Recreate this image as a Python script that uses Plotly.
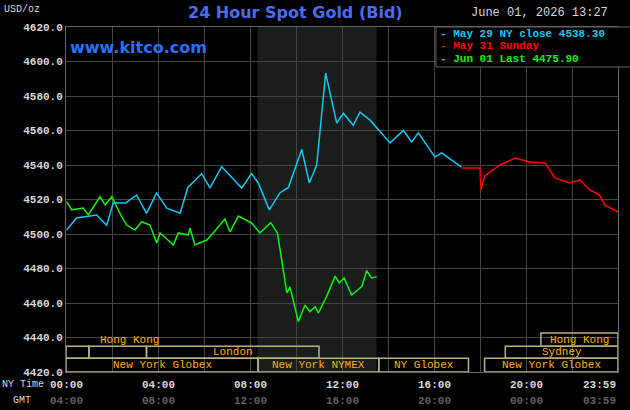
import plotly.graph_objects as go

blue_h = [0.03,0.46,1.33,1.77,2.05,2.6,3.07,3.5,3.94,4.38,4.96,5.3,5.9,6.26,6.77,7.64,8.07,8.36,8.84,9.3,9.67,10.25,10.58,10.9,11.29,11.77,12.06,12.49,12.78,13.22,14.09,14.67,15.03,15.32,16.04,16.33,17.2]
blue_v = [4502.3,4509.3,4511,4505,4518,4518,4522.6,4512,4523.8,4515,4512,4527,4535,4526.7,4539,4526.7,4535,4529.6,4514,4523.8,4527,4549,4529.6,4540,4593.3,4564.3,4570,4563,4570.7,4566,4552.8,4560,4553.3,4558.6,4544.6,4547,4538.8]
red_h = [17.2,18.0,18.04,18.2,18.87,19.52,20.17,20.83,21.26,21.9,22.35,22.78,23.2,23.43,24.0]
red_v = [4538.3,4538.3,4525.5,4533.6,4540,4544,4541.7,4541.2,4532.5,4529.6,4531.3,4525.5,4522.6,4516.8,4512.8]
green_h = [0.03,0.25,0.75,0.97,1.48,1.7,1.99,2.42,2.64,3.0,3.29,3.65,3.94,4.09,4.67,4.88,5.32,5.39,5.6,6.12,6.4,6.91,7.13,7.49,8.07,8.43,8.9,9.19,9.38,9.6,9.74,9.96,10.1,10.39,10.6,10.83,10.97,11.33,11.7,11.88,12.09,12.42,12.86,13.07,13.29,13.51]
green_v = [4518.7,4514,4515,4511,4521.6,4516.8,4521.6,4510,4505.2,4502.3,4507.1,4505.2,4494.8,4500.6,4493.6,4500.6,4499.4,4503.5,4493.6,4496.5,4500.6,4508.7,4501.2,4510.4,4506.4,4500.6,4506.6,4500.6,4484.9,4465.8,4469.3,4457.7,4449.2,4458.8,4455,4457.9,4454.2,4463.7,4475.6,4471.6,4474.5,4464.6,4469.5,4478.7,4474.5,4475.3]

ny_ticks = ["00:00","04:00","08:00","12:00","16:00","20:00","23:59"]
gmt_ticks = ["04:00","08:00","12:00","16:00","20:00","00:00","03:59"]
tick_pos = [0,4,8,12,16,20,24]
markets = [("Hong Kong",0,5.5,0),("Hong Kong",20.65,24,0),
           ("",0,1,1),("",1,3.5,1),("London",3.5,11,1),("Sydney",19.1,24,1),
           ("New York Globex",0,8.35,2),("New York NYMEX",8.35,13.6,2),("NY Globex",13.6,17.5,2),("New York Globex",18.2,24,2)]
row_y = [(4435,4442.6),(4428,4435),(4420,4428)]

F = "Liberation Mono"
fig = go.Figure()
fig.add_vrect(x0=8.33, x1=13.5, fillcolor="#1a1e1a", line_width=0, layer="below")
fig.add_trace(go.Scatter(x=blue_h, y=blue_v, mode="lines", line=dict(color="#10c8f8", width=1.5)))
fig.add_trace(go.Scatter(x=red_h, y=red_v, mode="lines", line=dict(color="#ff0000", width=1.5)))
fig.add_trace(go.Scatter(x=green_h, y=green_v, mode="lines", line=dict(color="#10f010", width=1.5)))

shapes = []
ann = []
for name, s, e, r in markets:
    y0, y1 = row_y[r]
    shapes.append(dict(type="rect", x0=s, x1=e, y0=y0, y1=y1, xref="x", yref="y",
                       line=dict(color="#b8b080", width=1.5), fillcolor="rgba(0,0,0,0)"))
    if name:
        ann.append(dict(x=(s+e)/2, y=(y0+y1)/2, xref="x", yref="y", text=name, showarrow=False,
                        font=dict(family=F, size=11, color="#ffb000")))
for i, (p, a, b) in enumerate(zip(tick_pos, ny_ticks, gmt_ticks)):
    xa = "right" if i == len(tick_pos) - 1 else "center"
    ann.append(dict(x=p, y=-0.015, xref="x", yref="paper", xanchor=xa, yanchor="top", text="<b>"+a+"</b>", showarrow=False,
                    font=dict(family=F, size=11, color="#d8d8d8")))
    ann.append(dict(x=p, y=-0.06, xref="x", yref="paper", xanchor=xa, yanchor="top", text="<b>"+b+"</b>", showarrow=False,
                    font=dict(family=F, size=11, color="#606060")))
ann += [
    dict(x=-66/552, y=-0.015, xref="paper", yref="paper", xanchor="left", yanchor="top", text="NY Time", showarrow=False, font=dict(family=F, size=10, color="#d8d8d8")),
    dict(x=-55/552, y=-0.06, xref="paper", yref="paper", xanchor="left", yanchor="top", text="GMT", showarrow=False, font=dict(family=F, size=10, color="#d8d8d8")),
    dict(x=-64/552, y=1.05, xref="paper", yref="paper", xanchor="left", yanchor="middle", text="USD/oz", showarrow=False, font=dict(family=F, size=10, color="#d8d8d8")),
    dict(x=229/552, y=1.01, xref="paper", yref="paper", xanchor="center", yanchor="bottom", text="<b>24 Hour Spot Gold (Bid)</b>", showarrow=False, font=dict(family="DejaVu Sans", size=16, color="#4a6cf0")),
    dict(x=2/552, y=1-21/345, xref="paper", yref="paper", xanchor="left", yanchor="middle", text="<b>www.kitco.com</b>", showarrow=False, font=dict(family="DejaVu Sans", size=16, color="#2a70ff")),
    dict(x=544/552, y=1.015, xref="paper", yref="paper", xanchor="right", yanchor="bottom", text="June 01, 2026 13:27", showarrow=False, font=dict(family=F, size=12, color="#d8d8d8")),
    dict(x=372/552, y=1-7/345, xref="paper", yref="paper", xanchor="left", yanchor="middle", text="<b>- May 29 NY close 4538.30</b>", showarrow=False, font=dict(family=F, size=11, color="#10c8f8")),
    dict(x=372/552, y=1-19/345, xref="paper", yref="paper", xanchor="left", yanchor="middle", text="<b>- May 31 Sunday</b>", showarrow=False, font=dict(family=F, size=11, color="#ff0000")),
    dict(x=372/552, y=1-32/345, xref="paper", yref="paper", xanchor="left", yanchor="middle", text="<b>- Jun 01 Last 4475.90</b>", showarrow=False, font=dict(family=F, size=11, color="#10f010")),
]
shapes.append(dict(type="rect", xref="paper", yref="paper", x0=370/552, x1=1.03, y0=1-40/345, y1=1,
                   line=dict(color="#606060", width=1), fillcolor="#000000", layer="above"))
fig.update_layout(
    width=630, height=410, margin=dict(l=66, r=12, t=27, b=38),
    paper_bgcolor="#000000", plot_bgcolor="#000000", showlegend=False,
    shapes=shapes, annotations=ann,
    xaxis=dict(range=[0,24], dtick=2, tick0=0, showticklabels=False, gridcolor="#444444", gridwidth=1,
               showline=True, linecolor="#666666", mirror=True, zeroline=False, ticks=""),
    yaxis=dict(range=[4420,4620], dtick=20, tickformat=".1f", gridcolor="#444444",
               showline=True, linecolor="#666666", mirror=True, zeroline=False, ticks="",
               tickprefix="<b>", ticksuffix="</b>",
               tickfont=dict(family=F, size=11, color="#d8d8d8")),
)
fig.write_html("out.html", config={"displayModeBar": False})
with open("out.html") as f:
    html = f.read()
html = html.replace("<head>", "<head><style>html,body{margin:0;padding:0;background:#000;overflow:hidden}</style>", 1)
with open("out.html", "w") as f:
    f.write(html)
